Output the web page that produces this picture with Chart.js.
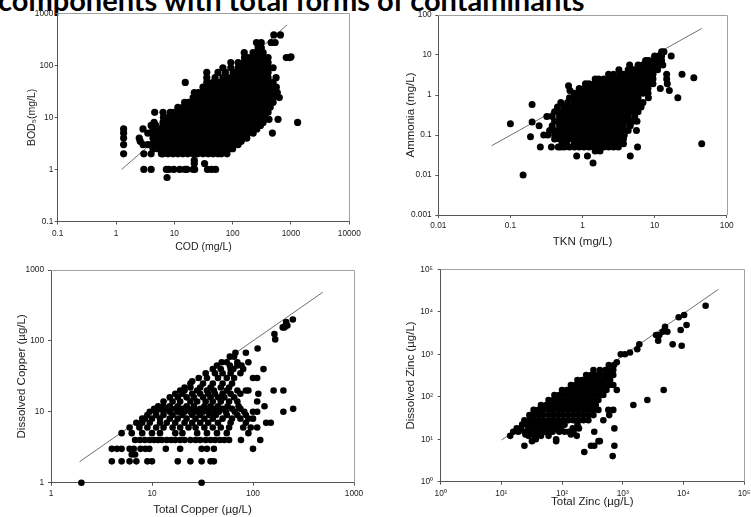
<!DOCTYPE html>
<html>
<head>
<meta charset="utf-8">
<script src="https://cdn.jsdelivr.net/npm/chart.js@4.4.1/dist/chart.umd.min.js"></script>
<style>
  html, body { margin: 0; padding: 0; background: #fff; width: 751px; height: 517px; overflow: hidden; position: relative; }
  canvas { position: absolute; left: 0; top: 0; }
  #heading { position: absolute; left: -2px; top: -15px; font: 700 29px Lato, "Open Sans", sans-serif; color: #000; white-space: nowrap; line-height: 29px; }
</style>
</head>
<body>
<div id="heading">components with total forms of contaminants</div>
<canvas id="codBod" width="780" height="560"></canvas>
<canvas id="tknAmmonia" width="780" height="560"></canvas>
<canvas id="copper" width="780" height="560"></canvas>
<canvas id="zinc" width="780" height="560"></canvas>
<script>
// ---- BOD5 vs COD (mg/L): rows of [BOD5, [COD values]] ----
const bodRows = [
  [0.7, [7.5]],
  [1, [3, 4, 7.3, 8.1, 9.8, 12.4, 15.2, 16.4, 21, 22.3, 37, 43.5, 51]],
  [1.3, [22, 33]],
  [1.5, [22]],
  [2, [1.35, 3, 4, 6, 6.4, 7.8, 9.5, 11.5, 14, 17, 21, 25, 31, 38, 46, 56, 64, 80]],
  [2.5, [4.3, 5.2, 6.4, 7.8, 9.5, 11.5, 14, 17, 21, 25, 31, 38, 46, 56, 68, 83, 100]],
  [3, [1.35, 2.9, 3.5, 4, 4.6, 5.2, 6.4, 7.8, 9.5, 11.5, 14, 17, 21, 25, 31, 38, 46, 56, 68, 83, 102, 124]],
  [3.5, [2.6, 5, 6.4, 7.8, 9.5, 11.5, 14, 17, 21, 25, 31, 38, 46, 56, 68, 83, 102, 124, 140]],
  [4, [1.35, 2.5, 4.3, 5.2, 6.4, 7.8, 9.5, 11.5, 14, 17, 21, 25, 31, 38, 46, 56, 68, 83, 102, 124, 151, 175]],
  [5, [1.35, 3.5, 4.3, 5.2, 6.4, 7.8, 9.5, 11.5, 14, 17, 21, 25, 31, 38, 46, 56, 68, 83, 102, 124, 151, 184, 225, 480]],
  [6, [1.35, 2.9, 4.3, 5.2, 6.4, 7.8, 9.5, 11.5, 14, 17, 21, 25, 31, 38, 46, 56, 68, 83, 102, 124, 151, 184, 224, 260]],
  [7, [4, 4.8, 6.4, 7.8, 9.5, 11.5, 14, 17, 21, 25, 31, 38, 46, 56, 68, 83, 102, 124, 151, 184, 224, 273, 300]],
  [8, [4.5, 6.4, 7.8, 9.5, 11.5, 14, 17, 21, 25, 31, 38, 46, 56, 68, 83, 102, 124, 151, 184, 224, 273, 333, 1300]],
  [9.2, [420, 600]],
  [10, [6.5, 7.8, 9.5, 11.5, 14, 17, 21, 25, 31, 38, 46, 56, 68, 83, 102, 124, 151, 184, 224, 273, 333, 350]],
  [12.5, [4.6, 6.4, 8.5, 9.8, 11.5, 14, 17, 21, 25, 31, 38, 46, 56, 68, 83, 102, 124, 151, 184, 224, 273, 333, 405]],
  [15.6, [11.5, 14, 17, 21, 25, 31, 38, 46, 56, 68, 83, 102, 124, 151, 184, 224, 273, 333, 405, 440]],
  [19.5, [15, 17.5, 21, 25, 31, 38, 46, 56, 68, 83, 102, 124, 151, 184, 224, 273, 333, 405, 494]],
  [24, [21, 25, 31, 38, 46, 56, 68, 83, 102, 124, 151, 184, 224, 273, 333, 405, 494, 630]],
  [30, [22, 26, 31, 38, 46, 56, 68, 83, 102, 124, 151, 184, 224, 273, 333, 405, 494, 583]],
  [38, [31, 38, 46, 56, 68, 83, 102, 124, 151, 184, 224, 273, 333, 405, 494, 560]],
  [47, [15.4, 36, 46, 56, 68, 83, 102, 124, 151, 184, 224, 273, 333, 405, 494]],
  [58, [36, 50, 68, 83, 102, 124, 151, 184, 224, 273, 333, 405, 555]],
  [73, [36, 56, 75, 102, 124, 151, 184, 224, 273, 333, 405]],
  [90, [68, 93, 124, 151, 184, 224, 273, 333, 405, 494]],
  [113, [93, 124, 151, 184, 224, 273, 333, 405]],
  [141, [160, 184, 224, 273, 333, 405, 830, 955]],
  [146, [1000]],
  [175, [158, 224, 273, 333]],
  [218, [273, 310]],
  [275, [256, 309, 457, 535]],
  [385, [508, 660]]
];
const codTicks = [0.1, 1, 10, 100, 1000, 10000];
const codTickLabels = ['0.1', '1', '10', '100', '1000', '10000'];
const bodTicks = [0.1, 1, 10, 100, 1000];
const bodTickLabels = ['0.1', '1', '10', '100', '1000'];
const codBodLine = [[1.25, 1], [860, 600]];

// ---- Ammonia vs TKN (mg/L): rows of [Ammonia, [TKN values]] ----
const ammoniaRows = [
  [0.01, [0.15]],
  [0.02, [1.4]],
  [0.03, [0.83, 1.17, 4.6]],
  [0.04, [1.5, 1.75]],
  [0.05, [0.26, 0.37, 0.46, 0.5, 0.56, 0.66, 0.77, 0.9, 1.05, 1.23, 1.44, 1.68, 1.97, 2.3, 2.7, 3.15, 5.8]],
  [0.06, [0.52, 0.6, 0.77, 0.9, 1.05, 1.23, 1.44, 1.68, 1.97, 2.3, 2.7, 3.15, 3.7, 45]],
  [0.08, [0.41, 0.48, 0.56, 0.66, 0.77, 0.9, 1.05, 1.23, 1.44, 1.68, 1.97, 2.3, 2.7, 3.15, 3.7]],
  [0.09, [0.19]],
  [0.1, [0.29, 0.33, 0.41, 0.48, 0.56, 0.66, 0.77, 0.9, 1.05, 1.23, 1.44, 1.68, 1.97, 2.3, 2.7, 3.15, 3.8]],
  [0.13, [0.35, 0.41, 0.48, 0.56, 0.66, 0.77, 0.9, 1.05, 1.23, 1.44, 1.68, 1.97, 2.3, 2.7, 3.15, 3.7, 4.3, 5.6]],
  [0.17, [0.25, 0.38, 0.48, 0.56, 0.66, 0.77, 0.9, 1.05, 1.23, 1.44, 1.68, 1.97, 2.3, 2.7, 3.15, 3.7, 4.6]],
  [0.19, [0.1]],
  [0.21, [0.2]],
  [0.22, [0.41, 0.48, 0.56, 0.66, 0.77, 0.9, 1.05, 1.23, 1.44, 1.68, 1.97, 2.3, 2.7, 3.15, 3.7, 4.3, 5.0, 5.7]],
  [0.29, [0.32, 0.38, 0.48, 0.56, 0.66, 0.77, 0.9, 1.05, 1.23, 1.44, 1.68, 1.97, 2.3, 2.7, 3.15, 3.7, 4.3, 5.3]],
  [0.38, [0.41, 0.48, 0.56, 0.66, 0.77, 0.9, 1.05, 1.23, 1.44, 1.68, 1.97, 2.3, 2.7, 3.15, 3.7, 4.3, 5.0, 5.9]],
  [0.5, [0.45, 0.56, 0.66, 0.77, 0.9, 1.05, 1.23, 1.44, 1.68, 1.97, 2.3, 2.7, 3.15, 3.7, 4.3, 5.0, 5.9, 6.5]],
  [0.58, [0.2]],
  [0.65, [0.5, 0.62, 0.77, 0.9, 1.05, 1.23, 1.44, 1.68, 1.97, 2.3, 2.7, 3.15, 3.7, 4.3, 5.0, 5.9, 6.9]],
  [0.85, [0.66, 0.77, 0.9, 1.05, 1.23, 1.44, 1.68, 1.97, 2.3, 2.7, 3.15, 3.7, 4.3, 5.0, 5.9, 8.2, 21]],
  [1.1, [0.77, 0.9, 1.05, 1.23, 1.44, 1.68, 1.97, 2.3, 2.7, 3.15, 3.7, 4.3, 5.0, 5.9, 6.9, 8.1]],
  [1.3, [0.67, 16]],
  [1.45, [0.9, 1.05, 1.23, 1.44, 1.68, 1.97, 2.3, 2.7, 3.15, 3.7, 4.3, 5.0, 5.9, 6.9, 8.1, 12]],
  [1.7, [0.64]],
  [1.9, [1.1, 1.23, 1.44, 1.68, 1.97, 2.3, 2.7, 3.15, 3.7, 4.3, 5.0, 5.9, 6.9, 8.1, 9.5, 15]],
  [2.5, [1.5, 1.68, 1.97, 2.3, 2.7, 3.15, 3.7, 4.3, 5.0, 5.9, 6.9, 8.1, 9.5, 14.7]],
  [2.7, [35]],
  [3.3, [2.3, 2.7, 3.3, 3.7, 4.3, 5.0, 5.9, 6.9, 8.1, 9.5, 14.7, 24]],
  [4.3, [3.2, 4.3, 5.0, 5.9, 6.9, 8.1, 9.5, 11]],
  [5.6, [4.5, 5.9, 6.9, 8.1, 9.5, 11, 13]],
  [7.3, [7.5, 8.1, 9.5, 11, 12.5]],
  [9.5, [10, 11.5, 12.5, 17]],
  [12, [12.5, 13.5]]
];
const tknTicks = [0.01, 0.1, 1, 10, 100];
const tknTickLabels = ['0.01', '0.1', '1', '10', '100'];
const ammoniaTicks = [0.001, 0.01, 0.1, 1, 10, 100];
const ammoniaTickLabels = ['0.001', '0.01', '0.1', '1', '10', '100'];
const tknAmmoniaLine = [[0.055, 0.054], [45, 46]];

// ---- Dissolved vs total copper (µg/L): rows of [dissolved, [total values]] ----
const copperRows = [
  [1, [2, 31]],
  [2, [4, 5, 6, 7, 9, 10, 18, 24, 31, 38, 41]],
  [2.5, [6.3, 6.8]],
  [3, [4, 4.5, 5, 6, 6.6, 7.7, 8.6, 9.4, 13.7, 19, 31, 35, 41, 100]],
  [4, [6.8, 7.6, 8.5, 9.5, 10.5, 11.5, 12.5, 14, 15.5, 17, 19, 21, 24, 27, 30, 34, 38, 42, 47, 52, 58, 76, 118]],
  [5, [5, 6.3, 8, 10, 12, 17, 20, 28, 35, 44, 55, 90]],
  [6, [6, 7.5, 9, 11, 13, 16, 19, 23, 27, 33, 40, 48, 58, 80, 95, 110]],
  [7, [7, 8, 9.5, 12, 14, 17, 21, 25, 30, 36, 45, 60, 85, 135, 150]],
  [8, [8, 8.5, 10, 12, 15, 18, 22, 27, 33, 40, 50, 62, 75, 90, 100]],
  [9, [9, 11, 13, 16, 20, 25, 30, 37, 43, 55, 70, 85]],
  [10, [9.5, 11, 13, 15, 18, 21, 24, 28, 32, 36, 40, 46, 54, 66, 82, 100, 110, 200]],
  [11, [10.5, 12, 14, 17, 20, 23, 26, 30, 35, 42, 50, 62, 75, 250]],
  [12, [11.5, 13, 15, 18, 22, 26, 33, 38, 45, 56, 72, 130]],
  [14, [13, 16, 19, 24, 28, 34, 40, 48, 58, 70, 110]],
  [16, [15, 18, 22, 26, 32, 38, 45, 52, 65]],
  [18, [17, 20, 25, 30, 36, 42, 50, 60, 75, 113]],
  [20, [19, 21, 28, 35, 41, 55, 70, 85, 90, 160, 200]],
  [22, [21, 24, 30, 38, 48, 58]],
  [25, [24, 32, 40, 50, 62]],
  [27, [25]],
  [30, [29, 35, 45, 55, 65, 100, 110]],
  [35, [34, 42, 50, 60, 75]],
  [40, [40, 48, 60, 64, 80, 127]],
  [45, [44, 59, 70, 77]],
  [50, [49, 55, 70, 90]],
  [60, [59, 65]],
  [68, [67, 85]],
  [78, [111]],
  [105, [166]],
  [125, [163]],
  [155, [197, 205]],
  [165, [210, 219]],
  [185, [213]],
  [200, [248]]
];
const copperTicks = [1, 10, 100, 1000];
const copperTickLabels = ['1', '10', '100', '1000'];
const copperLine = [[1.92, 1.98], [490, 485]];

// ---- Dissolved vs total zinc (µg/L): rows of [dissolved, [total values]] ----
const zincRows = [
  [4, [684]],
  [5, [233]],
  [7, [24, 300, 340, 730]],
  [9, [32, 80, 400, 420]],
  [10, [37, 80]],
  [12, [14, 28, 35, 45, 60, 175]],
  [13, [25, 40, 140]],
  [15, [15.7, 19, 24, 30, 37, 45, 52, 60, 70, 90, 110, 130, 155, 340]],
  [18, [17.9, 21, 28, 34, 41, 50, 58, 68, 80, 95, 150, 190, 730]],
  [22, [22, 26, 32, 40, 47, 55, 65, 78, 90, 110, 180]],
  [28, [24, 28, 34, 41, 49, 60, 72, 87, 105, 127, 154, 186, 225, 272, 480]],
  [37, [29, 34, 41, 49, 60, 72, 87, 105, 127, 154, 186, 225, 272, 330, 600]],
  [49, [34, 41, 49, 60, 72, 87, 105, 127, 154, 186, 225, 272, 329, 398, 580, 700]],
  [64, [45, 55, 66, 80, 95, 115, 140, 170, 205, 250, 300, 360, 1500]],
  [84, [60, 72, 87, 105, 127, 154, 186, 225, 272, 329, 398, 2550]],
  [110, [75, 90, 110, 133, 160, 195, 235, 285, 345, 420, 480]],
  [144, [100, 120, 144, 175, 210, 250, 300, 360, 440, 540, 800, 4740]],
  [189, [140, 165, 195, 235, 280, 335, 400, 480, 600, 700]],
  [248, [180, 215, 260, 310, 370, 440, 530, 620]],
  [325, [250, 300, 355, 430, 510, 600, 700]],
  [426, [330, 420, 520, 620, 700]],
  [560, [590, 720]],
  [650, [800]],
  [1000, [930, 1090]],
  [1100, [1320]],
  [1310, [1740]],
  [1590, [9400]],
  [1710, [1880, 6670]],
  [2090, [3850]],
  [2850, [3550, 4020]],
  [3400, [4560, 5450]],
  [3720, [9040]],
  [4460, [4990]],
  [4890, [11300]],
  [7420, [8380]],
  [8400, [10300]],
  [13900, [23300]]
];
const zincTicks = [1, 10, 100, 1000, 10000, 100000];
const zincTickLabels = ['10\u2070', '10\u00B9', '10\u00B2', '10\u00B3', '10\u2074', '10\u2075'];
const zincLine = [[10.1, 9.6], [37700, 33600]];

// ---- drawing ----
const AXIS = '#555';
const TEXT = '#222';
const FONT = '"Liberation Sans", Arial, sans-serif';

const toPoints = rows => rows.flatMap(([y, xs]) => xs.map(x => ({ x, y })));
const toLine = pairs => pairs.map(([x, y]) => ({ x, y }));

// light frame on the top and right edges of the plot area
const framePlugin = {
  id: 'frame',
  beforeDatasetsDraw(chart) {
    const { ctx, chartArea: { left, top, right, bottom } } = chart;
    const t = Math.round(top) + 0.5, r = Math.round(right) + 0.5;
    ctx.save();
    ctx.strokeStyle = '#a0a0a0';
    ctx.lineWidth = 1;
    ctx.beginPath();
    ctx.moveTo(left, t);
    ctx.lineTo(r, t);
    ctx.lineTo(r, bottom);
    ctx.stroke();
    ctx.restore();
  }
};

function logAxis(o) {
  return {
    type: 'logarithmic',
    min: o.ticks[0],
    max: o.ticks[o.ticks.length - 1],
    afterBuildTicks: s => { s.ticks = o.ticks.map(v => ({ value: v })); },
    afterFit: s => { if (o.width !== undefined) s.width = o.width; if (o.height !== undefined) s.height = o.height; },
    ticks: {
      autoSkip: false, maxRotation: 0, minRotation: 0,
      padding: o.pad, color: TEXT,
      font: { family: FONT, size: 8.3 },
      callback: (v, i) => o.labels[i]
    },
    grid: { drawOnChartArea: false, drawTicks: true, tickLength: 3, color: AXIS, lineWidth: 1 },
    border: { display: true, color: AXIS, width: 1 },
    title: { display: true, text: o.title, color: TEXT, padding: 0, font: { family: FONT, size: o.titleSize } }
  };
}

function plot(id, p) {
  new Chart(document.getElementById(id), {
    type: 'scatter',
    data: {
      datasets: [
        { data: toPoints(p.rows), pointRadius: p.radius, pointHoverRadius: p.radius, pointBackgroundColor: '#000', pointBorderWidth: 0, clip: false },
        { data: toLine(p.line), showLine: true, borderColor: '#4a4a4a', borderWidth: 0.8, pointRadius: 0, clip: false }
      ]
    },
    options: {
      responsive: false, animation: false, devicePixelRatio: 1,
      layout: { padding: p.padding },
      plugins: { legend: { display: false }, tooltip: { enabled: false } },
      scales: {
        x: logAxis(p.x),
        y: logAxis(p.y)
      }
    },
    plugins: [framePlugin]
  });
}

plot('codBod', {
  rows: bodRows, line: codBodLine, radius: 3.6,
  padding: { left: 25.7, top: 13.3, right: 430.7, bottom: 306.7 },
  x: { ticks: codTicks, labels: codTickLabels, title: 'COD (mg/L)', titleSize: 10.5, pad: 4.5, height: 31.8 },
  y: { ticks: bodTicks, labels: bodTickLabels, title: 'BOD\u2085(mg/L)', titleSize: 10.5, pad: 1.4, width: 32 }
});

plot('tknAmmonia', {
  rows: ammoniaRows, line: tknAmmoniaLine, radius: 3.5,
  padding: { left: 404.1, top: 15, right: 53.3, bottom: 311.4 },
  x: { ticks: tknTicks, labels: tknTickLabels, title: 'TKN (mg/L)', titleSize: 11.5, pad: 3, height: 33.6 },
  y: { ticks: ammoniaTicks, labels: ammoniaTickLabels, title: 'Ammonia (mg/L)', titleSize: 11.5, pad: 3.6, width: 34.2 }
});

plot('copper', {
  rows: copperRows, line: copperLine, radius: 3.3,
  padding: { left: 14.8, top: 270, right: 426, bottom: 43.1 },
  x: { ticks: copperTicks, labels: copperTickLabels, title: 'Total Copper (\u00B5g/L)', titleSize: 11.5, pad: 3.1, height: 34.2 },
  y: { ticks: copperTicks, labels: copperTickLabels, title: 'Dissolved Copper (\u00B5g/L)', titleSize: 11.5, pad: 4, width: 36.2 }
});

plot('zinc', {
  rows: zincRows, line: zincLine, radius: 3.3,
  padding: { left: 403.8, top: 269.3, right: 36, bottom: 51.4 },
  x: { ticks: zincTicks, labels: zincTickLabels, title: 'Total Zinc (\u00B5g/L)', titleSize: 11.5, pad: 4.1, height: 26.9 },
  y: { ticks: zincTicks, labels: zincTickLabels, title: 'Dissolved Zinc (\u00B5g/L)', titleSize: 11.5, pad: 4.7, width: 36.9 }
});
</script>
</body>
</html>
